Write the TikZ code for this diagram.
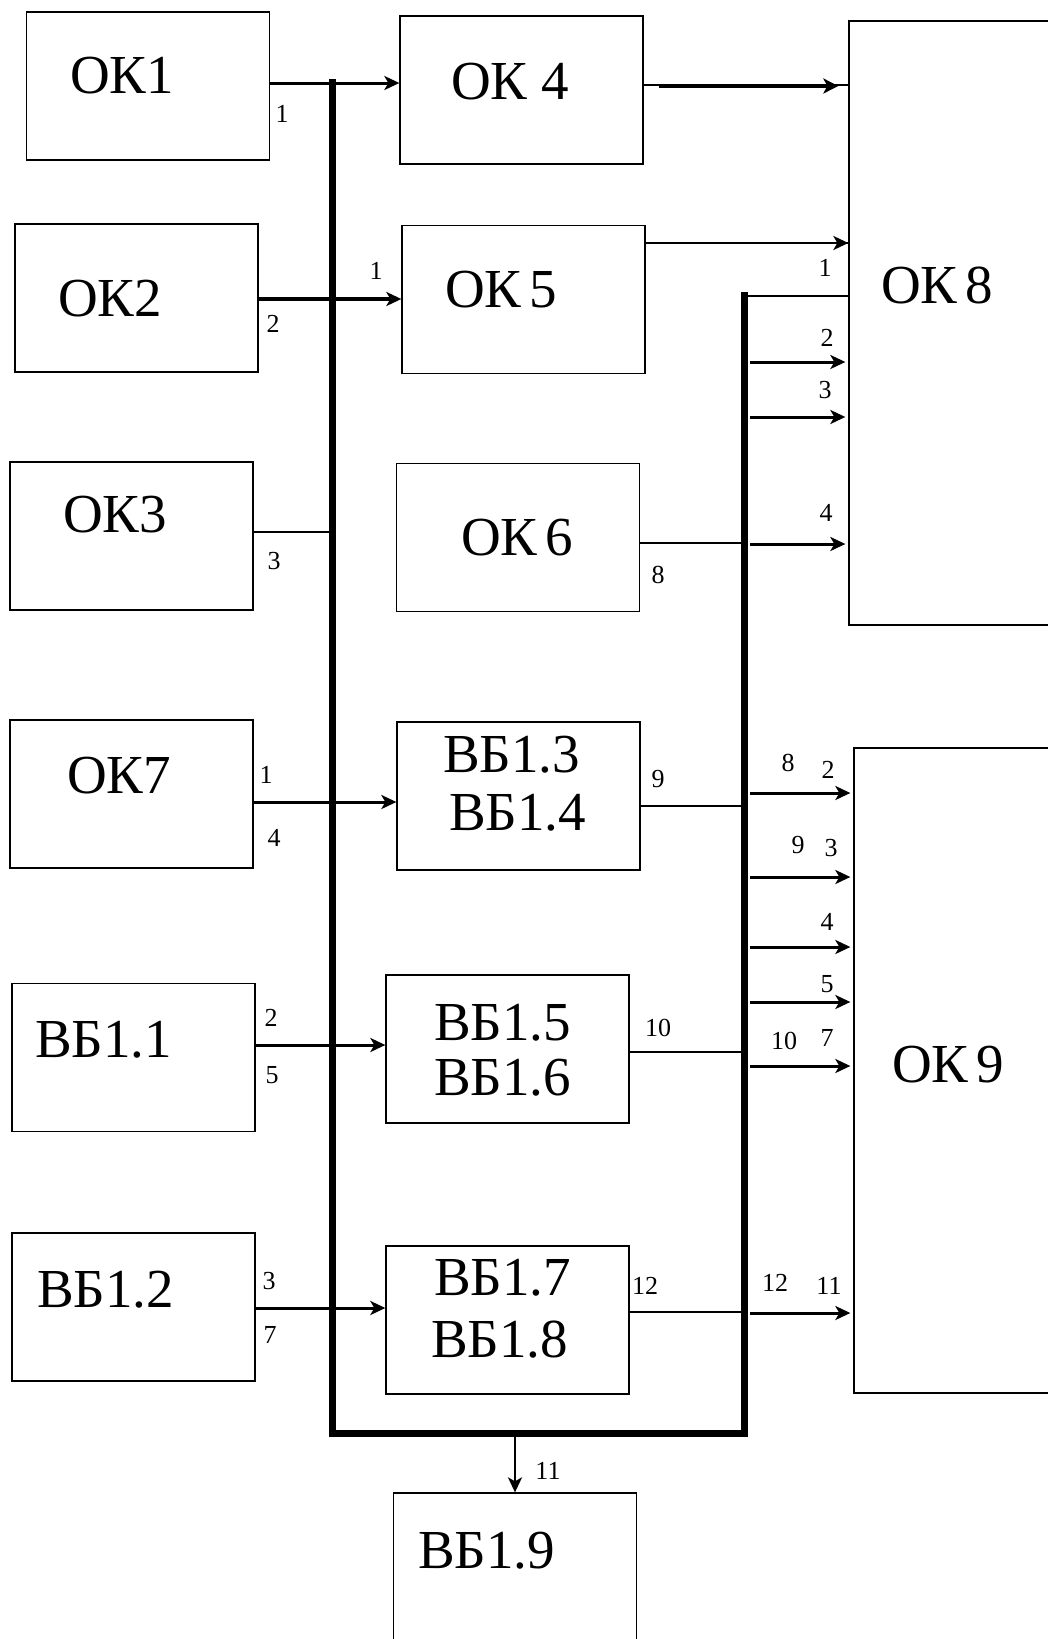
\documentclass[tikz,border=0pt]{standalone}
\usepackage{fontspec}
\setmainfont{Liberation Serif}
\usetikzlibrary{arrows.meta}
\begin{document}
\begin{tikzpicture}[x=1pt,y=-1pt,
  blk/.style={draw, line width=1.3pt, inner sep=0pt, minimum width=243pt, minimum height=148pt},
  big/.style={anchor=base west, inner sep=0pt, font=\fontsize{55}{58}\selectfont},
  narrow/.style={execute at begin node={\spaceskip=8pt\relax}},
  num/.style={inner sep=0pt, font=\fontsize{26}{26}\selectfont},
  bus/.style={line width=7pt, line join=miter},
  wire/.style={line width=1.3pt},
  arr/.style={line width=3pt, -{Stealth[length=15pt,width=14pt,inset=4pt]}},
  arrXL/.style={line width=4.5pt, -{Stealth[length=15pt,width=15pt,inset=4pt]}},
  intoK/.style={arr, shorten <=6pt, shorten >=3pt}
]
\useasboundingbox (0,0) rectangle (1048,1639);
\clip (0,0) rectangle (1048,1639);
\fill[white] (0,0) rectangle (1048,1639);

% boxes
\node[blk] (ok1) at (148,86) {};
\node[blk] (ok4) at (521.5,90) {};
\node[blk, minimum width=261pt, minimum height=604pt] (ok8) at (979.5,323) {};
\node[blk] (ok2) at (136.5,298) {};
\node[blk] (ok5) at (523.5,299.5) {};
\node[blk] (ok3) at (131.5,536) {};
\node[blk] (ok6) at (518,537.5) {};
\node[blk] (ok7) at (131.5,794) {};
\node[blk] (vb34) at (518.5,796) {};
\node[blk, minimum width=256pt, minimum height=645pt] (ok9) at (982,1070.5) {};
\node[blk] (vb11) at (133.5,1057.5) {};
\node[blk] (vb56) at (507.5,1049) {};
\node[blk] (vb12) at (133.5,1307) {};
\node[blk] (vb78) at (507.5,1320) {};
\node[blk, minimum height=207pt] (vb19) at (515,1596.5) {};

% buses
\coordinate (lbT) at (332,79);
\coordinate (lbB) at (332,1433);
\coordinate (rbB) at (744,1433);
\coordinate (rbT) at (744,292);
\draw[bus] (lbT) -- (lbB) -- (rbB) -- (rbT);

% connectors, upper part
\draw[arr] (ok1.east |- 0,83) -- (ok4.west |- 0,83);
\draw[wire] (ok4.east |- 0,85) -- (ok8.west |- 0,85);
\draw[arrXL, shorten <=15pt, shorten >=10pt] (ok4.east |- 0,86) -- (ok8.west |- 0,86);
\draw[wire] (ok5.east |- 0,243) -- (ok8.west |- 0,243);
\draw[arr, line width=2.6pt, shorten <=13pt] (ok5.east |- 0,243) -- (ok8.west |- 0,243);
\draw[wire] (rbT |- 0,296) -- (ok8.west |- 0,296);
\draw[arr, line width=3.5pt] (ok2.east |- 0,299) -- (ok5.west |- 0,299);
\draw[intoK] (rbT |- 0,362) -- (ok8.west |- 0,362);
\draw[intoK] (rbT |- 0,417) -- (ok8.west |- 0,417);
\draw[wire] (ok3.east |- 0,532) -- (lbT |- 0,532);
\draw[wire] (ok6.east |- 0,543) -- (rbT |- 0,543);
\draw[intoK] (rbT |- 0,544) -- (ok8.west |- 0,544);

% connectors, lower part
\draw[arr] (ok7.east |- 0,802) -- (vb34.west |- 0,802);
\draw[wire] (vb34.east |- 0,806) -- (rbT |- 0,806);
\draw[intoK] (rbT |- 0,793) -- (ok9.west |- 0,793);
\draw[intoK] (rbT |- 0,877) -- (ok9.west |- 0,877);
\draw[intoK] (rbT |- 0,947) -- (ok9.west |- 0,947);
\draw[intoK] (rbT |- 0,1002) -- (ok9.west |- 0,1002);
\draw[intoK] (rbT |- 0,1066) -- (ok9.west |- 0,1066);
\draw[arr] (vb11.east |- 0,1045) -- (vb56.west |- 0,1045);
\draw[wire] (vb56.east |- 0,1052) -- (rbT |- 0,1052);
\draw[arr] (vb12.east |- 0,1308) -- (vb78.west |- 0,1308);
\draw[wire] (vb78.east |- 0,1312) -- (rbT |- 0,1312);
\draw[intoK] (rbT |- 0,1313) -- (ok9.west |- 0,1313);
\draw[arr, line width=2.4pt] (vb19.north |- lbB) -- (vb19.north);

% block texts
\node[big] (tok1) at (70,93) {ОК1};
\node[big] (tok4) at (451,99) {ОК 4};
\node[big,narrow] (tok8) at (881,303) {ОК 8};
\node[big] (tok2) at (58,316) {ОК2};
\node[big,narrow] (tok5) at (445,307) {ОК 5};
\node[big] (tok3) at (63,532) {ОК3};
\node[big,narrow] (tok6) at (461,555) {ОК 6};
\node[big] (tok7) at (67,793) {ОК7};
\node[big] (tvb3) at (443,772) {ВБ1.3};
\node[big] (tvb4) at (449,830) {ВБ1.4};
\node[big,narrow] (tok9) at (892,1082) {ОК 9};
\node[big] (tvb1) at (35,1057) {ВБ1.1};
\node[big] (tvb5) at (434,1040) {ВБ1.5};
\node[big] (tvb6) at (434,1095) {ВБ1.6};
\node[big] (tvb2) at (37,1307) {ВБ1.2};
\node[big] (tvb7) at (434,1295) {ВБ1.7};
\node[big] (tvb8) at (431,1357) {ВБ1.8};
\node[big] (tvb9) at (418,1568) {ВБ1.9};

% small numbers
\node[num] (n1) at (282,114) {1};
\node[num] (n2) at (376,271) {1};
\node[num] (n3) at (273,324) {2};
\node[num] (n4) at (825,268) {1};
\node[num] (n5) at (827,338) {2};
\node[num] (n6) at (825,390) {3};
\node[num] (n7) at (826,513) {4};
\node[num] (n8) at (274,561) {3};
\node[num] (n9) at (658,575) {8};
\node[num] (n10) at (266,775) {1};
\node[num] (n11) at (274,838) {4};
\node[num] (n12) at (658,779) {9};
\node[num] (n13) at (788,763) {8};
\node[num] (n14) at (828,770) {2};
\node[num] (n15) at (798,845) {9};
\node[num] (n16) at (831,848) {3};
\node[num] (n17) at (827,922) {4};
\node[num] (n18) at (827,984) {5};
\node[num] (n19) at (784,1041) {10};
\node[num] (n20) at (827,1038) {7};
\node[num] (n21) at (271,1018) {2};
\node[num] (n22) at (272,1075) {5};
\node[num] (n23) at (658,1028) {10};
\node[num] (n24) at (269,1281) {3};
\node[num] (n25) at (270,1335) {7};
\node[num] (n26) at (645,1286) {12};
\node[num] (n27) at (775,1283) {12};
\node[num] (n28) at (829,1286) {11};
\node[num] (n29) at (548,1471) {11};
\end{tikzpicture}
\end{document}
